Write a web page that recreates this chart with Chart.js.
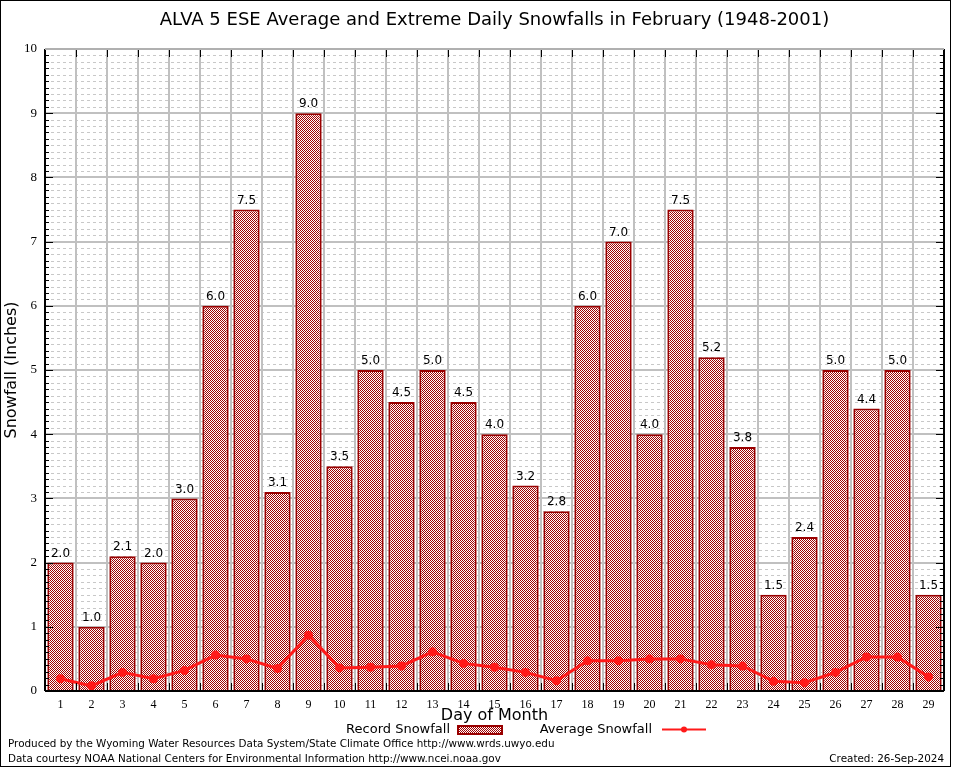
<!DOCTYPE html>
<html>
<head>
<meta charset="utf-8">
<script src="https://cdn.jsdelivr.net/npm/chart.js@4.4.0/dist/chart.umd.min.js"></script>
<style>
  html, body { margin: 0; padding: 0; background: #fff; }
  #wrap { width: 954px; height: 768px; position: relative; }
</style>
</head>
<body>
<div id="wrap"><canvas id="snowChart" width="954" height="768"></canvas></div>
<script>
// data
const days = ['1','2','3','4','5','6','7','8','9','10','11','12','13','14','15',
              '16','17','18','19','20','21','22','23','24','25','26','27','28','29'];
const recordSnow = [2.0, 1.0, 2.1, 2.0, 3.0, 6.0, 7.5, 3.1, 9.0, 3.5, 5.0, 4.5, 5.0, 4.5, 4.0,
                    3.2, 2.8, 6.0, 7.0, 4.0, 7.5, 5.2, 3.8, 1.5, 2.4, 5.0, 4.4, 5.0, 1.5];
const avgSnow = [0.19, 0.08, 0.29, 0.19, 0.32, 0.56, 0.50, 0.35, 0.87, 0.36, 0.37, 0.39, 0.61, 0.43, 0.37,
                 0.29, 0.16, 0.47, 0.47, 0.50, 0.50, 0.41, 0.39, 0.15, 0.13, 0.29, 0.53, 0.53, 0.22];
const yTicks = [0, 1, 2, 3, 4, 5, 6, 7, 8, 9, 10];

const titleText = 'ALVA 5 ESE Average and Extreme Daily Snowfalls in February (1948-2001)';
const footerLines = [
    'Produced by the Wyoming Water Resources Data System/State Climate Office http://www.wrds.uwyo.edu',
    'Data courtesy NOAA National Centers for Environmental Information http://www.ncei.noaa.gov'
];
const createdText = 'Created: 26-Sep-2024';

const SANS = '"DejaVu Sans", sans-serif';
const SERIF = '"Liberation Serif", "DejaVu Serif", serif';

// checker pattern for the bars
function makePattern(ctx) {
    const c = document.createElement('canvas');
    c.width = 2; c.height = 2;
    const p = c.getContext('2d');
    p.fillStyle = '#ffffff';
    p.fillRect(0, 0, 2, 2);
    p.fillStyle = '#a00000';
    p.fillRect(0, 0, 1, 1);
    p.fillRect(1, 1, 1, 1);
    return ctx.createPattern(c, 'repeat');
}

const canvas = document.getElementById('snowChart');
const ctx = canvas.getContext('2d');
const barPattern = makePattern(ctx);

// grid, ticks, frame drawn under the bars
const gridPlugin = {
    id: 'gnuGrid',
    beforeDatasetsDraw(chart) {
        const { ctx, chartArea: a, scales: { x, y } } = chart;
        ctx.save();
        // minor dashed lines every 0.1
        ctx.strokeStyle = '#c8c8c8';
        ctx.lineWidth = 1;
        ctx.setLineDash([3, 3]);
        for (let i = 0; i <= 100; i++) {
            if (i % 10 === 0) continue;
            const py = Math.round(y.getPixelForValue(i / 10)) + 0.5;
            ctx.beginPath(); ctx.moveTo(a.left, py); ctx.lineTo(a.right, py); ctx.stroke();
        }
        ctx.setLineDash([]);
        // major lines
        ctx.strokeStyle = '#c0c0c0';
        ctx.lineWidth = 2;
        yTicks.forEach(v => {
            const py = Math.round(y.getPixelForValue(v));
            ctx.beginPath(); ctx.moveTo(a.left, py); ctx.lineTo(a.right, py); ctx.stroke();
        });
        const step = (a.right - a.left) / days.length;
        for (let i = 1; i < days.length; i++) {
            const px = Math.round(a.left + step * i);
            ctx.beginPath(); ctx.moveTo(px, a.top); ctx.lineTo(px, a.bottom); ctx.stroke();
        }
        ctx.restore();
    },
    afterDatasetsDraw(chart) {
        const { ctx, chartArea: a, scales: { y } } = chart;
        ctx.save();
        ctx.strokeStyle = '#000';
        ctx.lineWidth = 1;
        // left and right ticks
        for (let i = 0; i <= 100; i++) {
            const py = Math.round(y.getPixelForValue(i / 10)) + 0.5;
            const len = i % 10 === 0 ? 8 : 4;
            ctx.beginPath(); ctx.moveTo(a.left, py); ctx.lineTo(a.left + len, py); ctx.stroke();
            ctx.beginPath(); ctx.moveTo(a.right, py); ctx.lineTo(a.right - len, py); ctx.stroke();
        }
        // bottom and top ticks at category edges
        const step = (a.right - a.left) / days.length;
        for (let i = 1; i < days.length; i++) {
            const px = Math.round(a.left + step * i) + 0.5;
            ctx.beginPath(); ctx.moveTo(px, a.bottom); ctx.lineTo(px, a.bottom - 8); ctx.stroke();
            ctx.beginPath(); ctx.moveTo(px, a.top); ctx.lineTo(px, a.top + 8); ctx.stroke();
        }
        // frame
        ctx.lineWidth = 2;
        ctx.beginPath(); ctx.moveTo(a.left, a.bottom); ctx.lineTo(a.right, a.bottom); ctx.stroke();
        ctx.beginPath(); ctx.moveTo(a.left, a.top); ctx.lineTo(a.left, a.bottom); ctx.stroke();
        ctx.beginPath(); ctx.moveTo(a.right, a.top); ctx.lineTo(a.right, a.bottom); ctx.stroke();
        ctx.strokeStyle = '#b0b0b0';
        ctx.beginPath(); ctx.moveTo(a.left, a.top); ctx.lineTo(a.right, a.top); ctx.stroke();

        // value labels above the record bars
        const meta = chart.getDatasetMeta(1);
        ctx.fillStyle = '#000';
        ctx.font = '12px ' + SANS;
        ctx.textAlign = 'center';
        ctx.textBaseline = 'bottom';
        meta.data.forEach((bar, i) => {
            ctx.fillText(recordSnow[i].toFixed(1), bar.x, bar.y - 3);
        });
        ctx.restore();
    }
};

// title, axis titles, legend and footer
const textPlugin = {
    id: 'gnuText',
    afterDraw(chart) {
        const { ctx, chartArea: a } = chart;
        const cx = (a.left + a.right) / 2;
        ctx.save();
        ctx.fillStyle = '#000';
        ctx.textAlign = 'center';
        ctx.textBaseline = 'middle';
        ctx.font = '18px ' + SANS;
        ctx.fillText(titleText, cx, 20);

        ctx.font = '16px ' + SANS;
        ctx.fillText('Day of Month', cx, 716);
        ctx.save();
        ctx.translate(12, (a.top + a.bottom) / 2);
        ctx.rotate(-Math.PI / 2);
        ctx.fillText('Snowfall (Inches)', 0, 0);
        ctx.restore();

        // legend
        ctx.font = '13px ' + SANS;
        ctx.textAlign = 'right';
        ctx.fillText('Record Snowfall', 450, 730);
        ctx.fillStyle = barPattern;
        ctx.fillRect(458, 726, 44, 8);
        ctx.strokeStyle = '#990000';
        ctx.lineWidth = 2;
        ctx.strokeRect(458, 726, 44, 8);
        ctx.fillStyle = '#000';
        ctx.fillText('Average Snowfall', 652, 730);
        ctx.strokeStyle = '#ff1a1a';
        ctx.lineWidth = 2;
        ctx.beginPath(); ctx.moveTo(662, 729.5); ctx.lineTo(706, 729.5); ctx.stroke();
        ctx.fillStyle = '#ff1a1a';
        ctx.beginPath(); ctx.arc(684, 729.5, 3, 0, Math.PI * 2); ctx.fill();

        // footer
        ctx.fillStyle = '#000';
        ctx.font = '10.4px ' + SANS;
        ctx.textAlign = 'left';
        ctx.fillText(footerLines[0], 8, 744);
        ctx.fillText(footerLines[1], 8, 759);
        ctx.textAlign = 'right';
        ctx.fillText(createdText, 944, 759);

        // outer frame
        ctx.strokeStyle = '#000';
        ctx.lineWidth = 1;
        ctx.strokeRect(0.5, 0.5, 950, 766);
        ctx.restore();
    }
};

new Chart(ctx, {
    type: 'bar',
    data: {
        labels: days,
        datasets: [
            {
                type: 'line',
                label: 'Average Snowfall',
                data: avgSnow,
                borderColor: '#ff1a1a',
                backgroundColor: '#ff1a1a',
                borderWidth: 3,
                pointRadius: 4.5,
                pointBackgroundColor: '#ff1a1a',
                pointBorderWidth: 0,
                tension: 0,
                order: 0
            },
            {
                label: 'Record Snowfall',
                data: recordSnow,
                backgroundColor: barPattern,
                borderColor: '#990000',
                borderWidth: 2,
                barPercentage: 0.85,
                categoryPercentage: 1.0,
                order: 1
            }
        ]
    },
    options: {
        responsive: false,
        animation: false,
        layout: { padding: { left: 0, top: 49, right: 10, bottom: 52 } },
        plugins: {
            legend: { display: false },
            title: { display: false },
            tooltip: { enabled: false }
        },
        scales: {
            x: {
                grid: { display: false, drawTicks: false },
                border: { display: false },
                ticks: { color: '#000', font: { family: SERIF, size: 12 }, padding: 7, maxRotation: 0, autoSkip: false },
                afterFit: s => { s.height = 25; }
            },
            y: {
                min: 0,
                max: 10,
                grid: { display: false, drawTicks: false },
                border: { display: false },
                ticks: { stepSize: 1, color: '#000', font: { family: SERIF, size: 13 }, padding: 8 },
                afterFit: s => { s.width = 45; }
            }
        }
    },
    plugins: [gridPlugin, textPlugin]
});
</script>
</body>
</html>
